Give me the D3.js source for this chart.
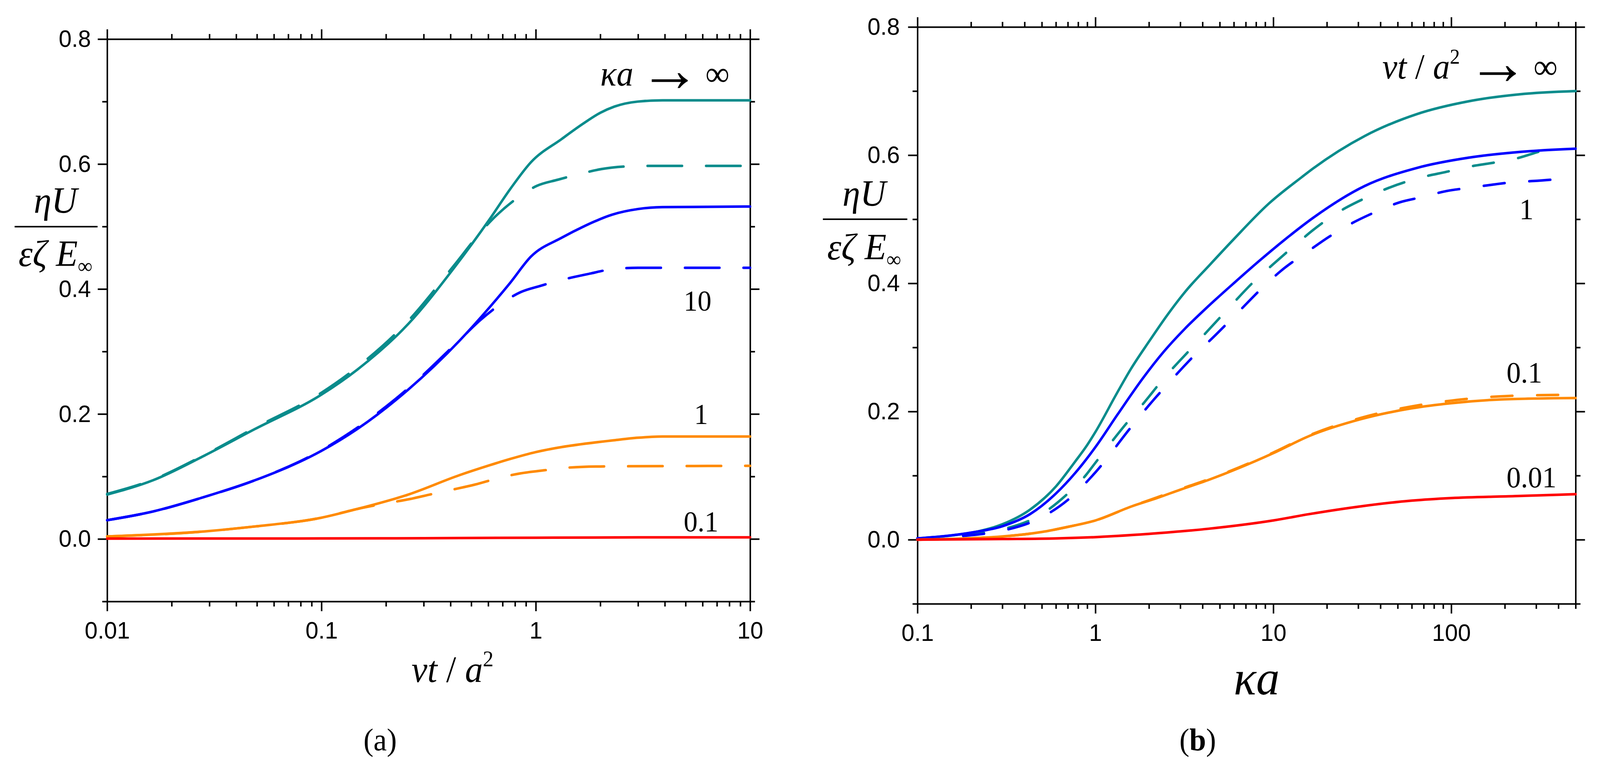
<!DOCTYPE html>
<html>
<head>
<meta charset="utf-8">
<script src="https://cdn.jsdelivr.net/npm/d3@7"></script>
<style>
  html, body { margin: 0; padding: 0; background: #fff; overflow: hidden; }
  #chart { display: block; width: 100vw; height: 100vh; }
  .ax path, .ax line { stroke: #000; stroke-width: 4; }
  .ax text { font-family: "Liberation Sans", Arial, sans-serif; font-size: 62px; fill: #000; }
  .serif { font-family: "Liberation Serif", "Times New Roman", serif; fill: #000; }
</style>
</head>
<body>
<svg id="chart" viewBox="0 0 4264 1955" preserveAspectRatio="none"></svg>
<script>
//// Data, panel (a): x = vt/a^2, pairs [x, value]
const aTicksX = [0.01, 0.1, 1, 10];
const aTickLabelsX = ['0.01', '0.1', '1', '10'];
const aTealSolid = [[0.01,0.071],[0.0164,0.094],[0.0283,0.133],[0.049,0.176],[0.1,0.231],[0.147,0.271],[0.254,0.344],[0.416,0.434],[0.61,0.512],[0.76,0.560],[0.95,0.603],[1.32,0.640],[1.67,0.665],[2.0,0.682],[2.33,0.692],[3.0,0.700],[3.9,0.702],[10,0.702]];
const aTealDash  = [[0.01,0.072],[0.0164,0.095],[0.0283,0.134],[0.049,0.178],[0.1,0.234],[0.147,0.275],[0.254,0.349],[0.416,0.438],[0.55,0.490],[0.63,0.512],[0.78,0.540],[1.01,0.565],[1.27,0.575],[1.64,0.585],[2.03,0.592],[2.6,0.596],[3.3,0.597],[10,0.597]];
const aBlueSolid = [[0.01,0.030],[0.0164,0.044],[0.0283,0.067],[0.049,0.094],[0.1,0.141],[0.147,0.176],[0.254,0.239],[0.44,0.317],[0.61,0.371],[0.76,0.41],[0.95,0.452],[1.32,0.482],[1.67,0.500],[2.27,0.519],[3.0,0.528],[3.9,0.531],[10,0.532]];
const aBlueDash  = [[0.01,0.030],[0.0164,0.044],[0.0283,0.067],[0.049,0.094],[0.1,0.142],[0.147,0.178],[0.254,0.241],[0.44,0.318],[0.55,0.35],[0.68,0.375],[0.85,0.395],[1.05,0.405],[1.3,0.414],[1.81,0.425],[2.2,0.431],[3.0,0.434],[10,0.434]];
const aOrangeSolid = [[0.01,0.004],[0.0283,0.012],[0.049,0.020],[0.1,0.034],[0.147,0.048],[0.254,0.071],[0.44,0.102],[0.61,0.118],[0.76,0.128],[1.0,0.139],[1.32,0.147],[2.33,0.158],[3.0,0.162],[3.9,0.164],[10,0.164]];
const aOrangeDash  = [[0.01,0.004],[0.0283,0.012],[0.049,0.020],[0.1,0.034],[0.147,0.048],[0.2,0.057],[0.26,0.064],[0.32,0.071],[0.41,0.079],[0.52,0.087],[0.68,0.098],[0.85,0.105],[1.1,0.110],[1.4,0.114],[2.0,0.116],[10,0.117]];
const aRedSolid = [[0.01,0.0005],[0.1,0.0008],[0.3,0.0012],[1,0.002],[3,0.0025],[10,0.0025]];

//// Data, panel (b): x = kappa*a
const bTicksX = [0.1, 1, 10, 100];
const bTickLabelsX = ['0.1', '1', '10', '100'];
const bTealSolid = [[0.1,0.002],[0.16,0.007],[0.22,0.013],[0.3,0.024],[0.43,0.047],[0.6,0.083],[0.77,0.122],[0.886,0.145],[1.0,0.168],[1.33,0.230],[1.58,0.266],[2.0,0.309],[2.56,0.352],[3.2,0.387],[4.4,0.429],[6.0,0.469],[9.4,0.524],[14.5,0.566],[16.7,0.579],[32.7,0.630],[64,0.664],[125,0.684],[243,0.695],[500,0.700]];
const bTealDash  = [[0.1,0.002],[0.2,0.008],[0.3,0.016],[0.5,0.040],[0.7,0.072],[0.88,0.100],[1.0,0.12],[1.49,0.181],[1.88,0.214],[2.48,0.255],[3.19,0.288],[4.35,0.328],[5.6,0.361],[7.6,0.40],[10,0.43],[13.7,0.463],[16.7,0.483],[24.5,0.515],[32.3,0.532],[44.6,0.549],[69.5,0.566],[94,0.574],[126,0.582],[171,0.588],[226,0.594],[307,0.605],[413,0.616]];
const bBlueSolid = [[0.1,0.002],[0.2,0.011],[0.3,0.021],[0.43,0.040],[0.6,0.072],[0.77,0.104],[1.01,0.146],[1.33,0.195],[1.85,0.252],[2.4,0.292],[3.18,0.329],[4.3,0.364],[6.1,0.402],[8.5,0.437],[11.7,0.469],[16.7,0.502],[32.7,0.552],[64,0.580],[125,0.596],[243,0.605],[500,0.610]];
const bBlueDash  = [[0.1,0.002],[0.2,0.007],[0.3,0.014],[0.5,0.035],[0.7,0.062],[1.0,0.105],[1.57,0.174],[1.99,0.209],[2.67,0.249],[3.5,0.284],[4.8,0.321],[6.3,0.354],[8.6,0.392],[11.1,0.42],[15.5,0.449],[20.4,0.472],[28.2,0.495],[37.3,0.511],[50.8,0.526],[69.6,0.535],[94,0.544],[126,0.549],[171,0.554],[226,0.558],[307,0.560],[413,0.563]];
const bOrangeSolid = [[0.1,0.0],[0.3,0.005],[0.5,0.012],[0.7,0.02],[1,0.030],[1.6,0.052],[2.22,0.065],[3,0.078],[4.3,0.093],[10,0.135],[16,0.162],[31,0.188],[60,0.205],[100,0.213],[200,0.219],[500,0.221]];
const bOrangeDash  = [[0.1,0.0],[0.3,0.005],[0.5,0.012],[0.7,0.02],[1,0.030],[1.6,0.052],[2.22,0.066],[3,0.079],[4.3,0.094],[10,0.136],[16,0.163],[31,0.190],[60,0.208],[100,0.217],[200,0.224],[413,0.226]];
const bRedSolid = [[0.1,0.0],[0.3,0.001],[0.6,0.002],[1,0.004],[2.22,0.010],[4.3,0.017],[10,0.030],[16,0.040],[31,0.052],[60,0.061],[100,0.065],[227,0.068],[500,0.071]];

const yMajor = [0.0, 0.2, 0.4, 0.6, 0.8];
const yMinor = [-0.1, 0.1, 0.3, 0.5, 0.7];

const TEAL = '#0a8c8c', BLUE = '#0000ff', ORANGE = '#ff8a00', RED = '#ff0000';

const svg = d3.select('#chart');

//// log minor tick positions (2..9 in each decade)
function logMinor(domain) {
  const out = [];
  for (let e = Math.floor(Math.log10(domain[0])); e < Math.ceil(Math.log10(domain[1])); e++) {
    for (let k = 2; k <= 9; k++) {
      const v = k * Math.pow(10, e);
      if (v >= domain[0] * 0.999 && v <= domain[1] * 1.001) out.push(v);
    }
  }
  return out;
}

function drawPanel(p) {
  const g = svg.append('g');
  const x = d3.scaleLog().domain(p.xDomain).range([p.left, p.right]);
  const y = d3.scaleLinear().domain([-0.1, 0.8]).range([p.bottom, p.top]);
  const minorX = logMinor(p.xDomain);

  ////Axes: majors with labels (left, bottom), the rest without
  g.append('g').attr('class', 'ax').attr('transform', `translate(0,${p.bottom})`)
    .call(d3.axisBottom(x).tickValues(p.ticksX).tickFormat((d, i) => p.tickLabelsX[i])
      .tickSize(25).tickSizeOuter(0).tickPadding(26));
  g.append('g').attr('class', 'ax').attr('transform', `translate(0,${p.bottom})`)
    .call(d3.axisBottom(x).tickValues(minorX).tickFormat('').tickSize(13).tickSizeOuter(0))
    .select('.domain').remove();
  g.append('g').attr('class', 'ax').attr('transform', `translate(0,${p.top})`)
    .call(d3.axisTop(x).tickValues(p.ticksX).tickFormat('').tickSize(25).tickSizeOuter(0));
  g.append('g').attr('class', 'ax').attr('transform', `translate(0,${p.top})`)
    .call(d3.axisTop(x).tickValues(minorX).tickFormat('').tickSize(13).tickSizeOuter(0))
    .select('.domain').remove();

  g.append('g').attr('class', 'ax').attr('transform', `translate(${p.left},0)`)
    .call(d3.axisLeft(y).tickValues(yMajor).tickFormat(d3.format('.1f'))
      .tickSize(25).tickSizeOuter(0).tickPadding(p.yPad));
  g.append('g').attr('class', 'ax').attr('transform', `translate(${p.left},0)`)
    .call(d3.axisLeft(y).tickValues(yMinor).tickFormat('').tickSize(13).tickSizeOuter(0))
    .select('.domain').remove();
  g.append('g').attr('class', 'ax').attr('transform', `translate(${p.right},0)`)
    .call(d3.axisRight(y).tickValues(yMajor).tickFormat('').tickSize(25).tickSizeOuter(0));
  g.append('g').attr('class', 'ax').attr('transform', `translate(${p.right},0)`)
    .call(d3.axisRight(y).tickValues(yMinor).tickFormat('').tickSize(13).tickSizeOuter(0))
    .select('.domain').remove();
  g.selectAll('.ax text').attr('font-family', null).attr('font-size', null);

  ////Curves
  const line = d3.line().x(d => x(d[0])).y(d => y(d[1])).curve(d3.curveMonotoneX);
  p.series.forEach(s => {
    g.append('path').datum(s.data)
      .attr('d', line)
      .attr('fill', 'none')
      .attr('stroke', s.color)
      .attr('stroke-width', 6.5)
      .attr('stroke-linecap', 'round')
      .attr('stroke-linejoin', 'round')
      .attr('stroke-dasharray', s.dash ? p.dash : null);
  });

  ////Y label as fraction
  const yl = g.append('g').attr('class', 'serif').attr('text-anchor', 'middle');
  yl.append('text').attr('x', p.yLab.cx).attr('y', p.yLab.top)
    .attr('font-size', 95).attr('font-style', 'italic').text('ηU');
  yl.append('line').attr('x1', p.yLab.x1).attr('x2', p.yLab.x2)
    .attr('y1', p.yLab.line).attr('y2', p.yLab.line)
    .attr('stroke', '#000').attr('stroke-width', 4);
  const den = yl.append('text').attr('x', p.yLab.cx).attr('y', p.yLab.bot)
    .attr('font-size', 95).attr('font-style', 'italic');
  den.append('tspan').text('εζ E');
  den.append('tspan').attr('font-size', 55).attr('font-style', 'normal').attr('dy', 18).text('∞');

  return { x, y, g };
}

//// Panel (a)
const A = drawPanel({
  xDomain: [0.01, 10], ticksX: aTicksX, tickLabelsX: aTickLabelsX,
  left: 285.5, right: 1999, top: 100, bottom: 1539, yPad: 18, dash: '92,64',
  yLab: { cx: 148, top: 545, line: 580, bot: 681, x1: 39, x2: 260 },
  series: [
    { data: aTealSolid, color: TEAL }, { data: aTealDash, color: TEAL, dash: true },
    { data: aBlueSolid, color: BLUE }, { data: aBlueDash, color: BLUE, dash: true },
    { data: aOrangeSolid, color: ORANGE }, { data: aOrangeDash, color: ORANGE, dash: true },
    { data: aRedSolid, color: RED }
  ]
});

//// Panel (b)
const B = drawPanel({
  xDomain: [0.1, 500], ticksX: bTicksX, tickLabelsX: bTickLabelsX,
  left: 2445, right: 4199, top: 69, bottom: 1545, yPad: 22, dash: '56,66',
  yLab: { cx: 2303, top: 527, line: 561, bot: 664, x1: 2193, x2: 2418 },
  series: [
    { data: bTealSolid, color: TEAL }, { data: bTealDash, color: TEAL, dash: true },
    { data: bBlueSolid, color: BLUE }, { data: bBlueDash, color: BLUE, dash: true },
    { data: bOrangeSolid, color: ORANGE }, { data: bOrangeDash, color: ORANGE, dash: true },
    { data: bRedSolid, color: RED }
  ]
});

//// Annotations
function label(g, x, y, size, anchor, parts) {
  const t = g.append('text').attr('class', 'serif').attr('x', x).attr('y', y)
    .attr('font-size', size).attr('text-anchor', anchor);
  parts.forEach(p => {
    const s = t.append('tspan').text(p.t);
    if (p.i) s.attr('font-style', 'italic');
    if (p.b) s.attr('font-weight', 'bold');
    if (p.sup) s.attr('font-size', size * 0.6).attr('dy', -size * 0.42);
    if (p.dy) s.attr('dy', p.dy);
    if (p.dx) s.attr('dx', p.dx);
    if (p.arrow) s.attr('font-size', size * 1.8);
  });
  return t;
}

label(A.g, 1944, 219, 90, 'end', [{ t: 'κa', i: true }, { t: '→', arrow: true, dx: 16, dy: 14 }, { t: '∞', dx: 14, dy: -14 }]);
label(A.g, 1822, 795, 74, 'start', [{ t: '10' }]);
label(A.g, 1850, 1085, 74, 'start', [{ t: '1' }]);
label(A.g, 1822, 1360, 74, 'start', [{ t: '0.1' }]);
label(A.g, 1206, 1745, 95, 'middle', [{ t: 'νt', i: true }, { t: ' / ' }, { t: 'a', i: true }, { t: '2', sup: true }]);
label(A.g, 1013, 1920, 80, 'middle', [{ t: '(a)' }]);

label(B.g, 4151, 201, 90, 'end', [{ t: 'νt', i: true }, { t: ' / ' }, { t: 'a', i: true }, { t: '2', sup: true }, { t: '→', arrow: true, dx: 20, dy: 90 * 0.42 + 14 }, { t: '∞', dx: 14, dy: -14 }]);
label(B.g, 4049, 561, 76, 'start', [{ t: '1' }]);
label(B.g, 4015, 979, 76, 'start', [{ t: '0.1' }]);
label(B.g, 4015, 1247, 76, 'start', [{ t: '0.01' }]);
label(B.g, 3349, 1777, 125, 'middle', [{ t: 'κa', i: true }]);
label(B.g, 3192, 1920, 80, 'middle', [{ t: '(' }, { t: 'b', b: true }, { t: ')' }]);
</script>
</body>
</html>
